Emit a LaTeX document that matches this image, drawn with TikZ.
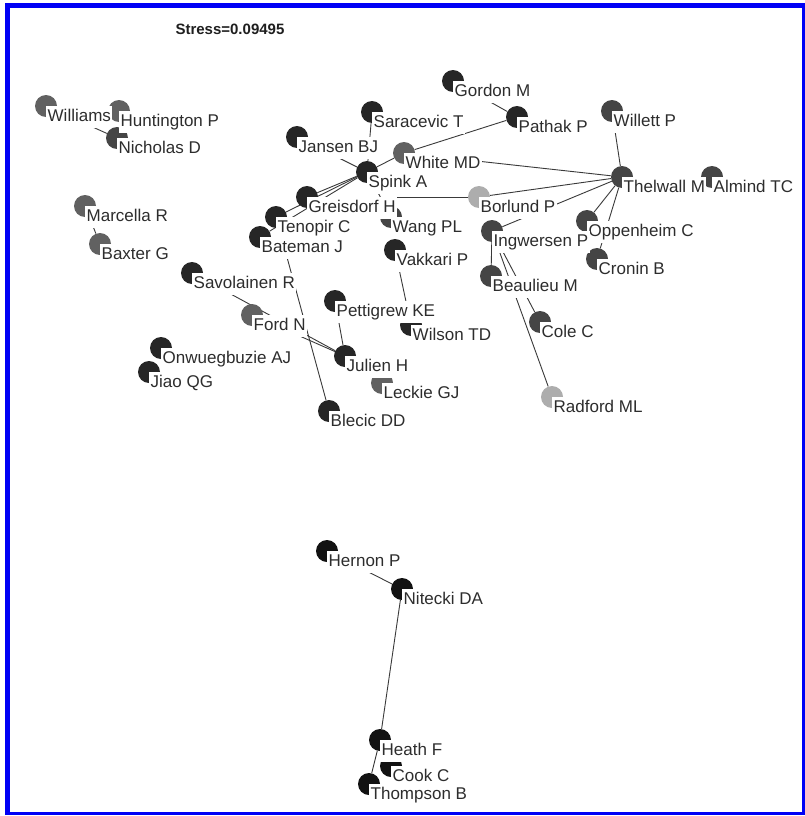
\documentclass[tikz,border=0pt]{standalone}
\usepackage{fontspec}
\setmainfont{Liberation Sans}
\usepackage{tikz}
\usetikzlibrary{backgrounds}
\definecolor{frameblue}{RGB}{0, 0, 245}
\definecolor{linkgray}{RGB}{58, 58, 58}
\definecolor{namegray}{RGB}{45, 45, 45}

\begin{document}
\begin{tikzpicture}[x=1pt, y=-1pt,
  au/.style={circle, inner sep=0pt, minimum size=22pt},
  blk/.style={au, fill=black!93},
  drk/.style={au, fill=black!85},
  gry/.style={au, fill=black!73},
  mid/.style={au, fill=black!62},
  lgt/.style={au, fill=black!32},
  lbl/.style={anchor=north west, fill=white, text=namegray, inner xsep=1.5pt, inner ysep=3pt,
    text height=12.4pt, text depth=3.6pt, font=\fontsize{17}{20}\selectfont},
  lnk/.style={linkgray, line width=0.9pt}]
  \useasboundingbox (0,0) rectangle (805,816);
  \node[anchor=base west, text=black!88, font=\bfseries\fontsize{15}{17}\selectfont] (stress) at (172,35) {Stress=0.09495};
  \node[mid] (williams) at (46,106) {};
  \node[mid] (huntington) at (119,111) {};
  \node[gry] (nicholas) at (117,138) {};
  \node[drk] (gordon) at (453,81) {};
  \node[drk] (pathak) at (517,117) {};
  \node[drk] (saracevic) at (372,112) {};
  \node[gry] (willett) at (612,111) {};
  \node[drk] (jansen) at (297,137) {};
  \node[mid] (white) at (404,153) {};
  \node[drk] (spink) at (367,172) {};
  \node[gry] (thelwall) at (622,177) {};
  \node[gry] (almind) at (712,177) {};
  \node[drk] (greisdorf) at (307,197) {};
  \node[lgt] (borlund) at (479,197) {};
  \node[mid] (marcella) at (85,206) {};
  \node[drk] (tenopir) at (276,217) {};
  \node[gry] (wang) at (391,217) {};
  \node[gry] (ingwersen) at (492,231) {};
  \node[gry] (oppenheim) at (587,221) {};
  \node[drk] (bateman) at (260,237) {};
  \node[mid] (baxter) at (100,244) {};
  \node[drk] (vakkari) at (395,250) {};
  \node[gry] (cronin) at (597,259) {};
  \node[gry] (beaulieu) at (491,276) {};
  \node[drk] (savolainen) at (192,273) {};
  \node[mid] (ford) at (252,315) {};
  \node[drk] (pettigrew) at (335,301) {};
  \node[drk] (wilson) at (411,325) {};
  \node[gry] (cole) at (540,322) {};
  \node[drk] (onwuegbuzie) at (161,348) {};
  \node[drk] (julien) at (345,356) {};
  \node[drk] (jiao) at (149,372) {};
  \node[mid] (leckie) at (382,383) {};
  \node[lgt] (radford) at (552,397) {};
  \node[drk] (blecic) at (329,411) {};
  \node[blk] (hernon) at (327,551) {};
  \node[blk] (nitecki) at (402,589) {};
  \node[blk] (heath) at (380,740) {};
  \node[blk] (cook) at (391,766) {};
  \node[blk] (thompson) at (369,784) {};
  \begin{scope}[on background layer]
    \fill[frameblue] (5,3) rectangle (805,815);
    \fill[white] (10,8) rectangle (802,812);
    \draw[lnk] (williams) -- (nicholas);
    \draw[lnk] (marcella) -- (baxter);
    \draw[lnk] (gordon) -- (pathak);
    \draw[lnk] (white) -- (pathak);
    \draw[lnk] (saracevic) -- (spink);
    \draw[lnk] (jansen) -- (spink);
    \draw[lnk] (spink) -- (white);
    \draw[lnk] (spink) -- (greisdorf);
    \draw[lnk] (spink) -- (tenopir);
    \draw[lnk] (spink) -- (bateman);
    \draw[lnk] (spink) -- (wang);
    \draw[lnk] (wang) -- (vakkari);
    \draw[lnk] (vakkari) -- (wilson);
    \draw[lnk] (greisdorf) -- (borlund);
    \draw[lnk] (tenopir) -- (blecic);
    \draw[lnk] (savolainen) -- (julien);
    \draw[lnk] (ford) -- (julien);
    \draw[lnk] (pettigrew) -- (julien);
    \draw[lnk] (white) -- (thelwall);
    \draw[lnk] (willett) -- (thelwall);
    \draw[lnk] (borlund) -- (thelwall);
    \draw[lnk] (ingwersen) -- (thelwall);
    \draw[lnk] (oppenheim) -- (thelwall);
    \draw[lnk] (cronin) -- (thelwall);
    \draw[lnk] (ingwersen) -- (beaulieu);
    \draw[lnk] (ingwersen) -- (cole);
    \draw[lnk] (ingwersen) -- (radford);
    \draw[lnk] (hernon) -- (nitecki);
    \draw[lnk] (nitecki) -- (heath);
    \draw[lnk] (heath) -- (thompson);
  \end{scope}
  \node[lbl] (gordon-l) at (gordon.center) {Gordon M};
  \node[lbl] (williams-l) at (williams.center) {Williams};
  \node[lbl] (huntington-l) at (huntington.center) {Huntington P};
  \node[lbl] (nicholas-l) at (nicholas.center) {Nicholas D};
  \node[lbl] (saracevic-l) at (saracevic.center) {Saracevic T};
  \node[lbl] (willett-l) at (willett.center) {Willett P};
  \node[lbl] (pathak-l) at (pathak.center) {Pathak P};
  \node[lbl] (jansen-l) at (jansen.center) {Jansen BJ};
  \node[lbl] (white-l) at (white.center) {White MD};
  \node[lbl] (spink-l) at (spink.center) {Spink A};
  \node[lbl] (thelwall-l) at (thelwall.center) {Thelwall M};
  \node[lbl] (almind-l) at (almind.center) {Almind TC};
  \node[lbl] (greisdorf-l) at (greisdorf.center) {Greisdorf H};
  \node[lbl] (borlund-l) at (borlund.center) {Borlund P};
  \node[lbl] (marcella-l) at (marcella.center) {Marcella R};
  \node[lbl] (tenopir-l) at (tenopir.center) {Tenopir C};
  \node[lbl] (wang-l) at (wang.center) {Wang PL};
  \node[lbl] (oppenheim-l) at (oppenheim.center) {Oppenheim C};
  \node[lbl] (ingwersen-l) at (ingwersen.center) {Ingwersen P};
  \node[lbl] (bateman-l) at (bateman.center) {Bateman J};
  \node[lbl] (baxter-l) at (baxter.center) {Baxter G};
  \node[lbl] (vakkari-l) at (vakkari.center) {Vakkari P};
  \node[lbl] (cronin-l) at (cronin.center) {Cronin B};
  \node[lbl] (savolainen-l) at (savolainen.center) {Savolainen R};
  \node[lbl] (beaulieu-l) at (beaulieu.center) {Beaulieu M};
  \node[lbl] (pettigrew-l) at (pettigrew.center) {Pettigrew KE};
  \node[lbl] (ford-l) at (ford.center) {Ford N};
  \node[lbl] (wilson-l) at (wilson.center) {Wilson TD};
  \node[lbl] (cole-l) at (cole.center) {Cole C};
  \node[lbl] (onwuegbuzie-l) at (onwuegbuzie.center) {Onwuegbuzie AJ};
  \node[lbl] (julien-l) at (julien.center) {Julien H};
  \node[lbl] (jiao-l) at (jiao.center) {Jiao QG};
  \node[lbl] (leckie-l) at (leckie.center) {Leckie GJ};
  \node[lbl] (radford-l) at (radford.center) {Radford ML};
  \node[lbl] (blecic-l) at (blecic.center) {Blecic DD};
  \node[lbl] (hernon-l) at (hernon.center) {Hernon P};
  \node[lbl] (nitecki-l) at (nitecki.center) {Nitecki DA};
  \node[lbl] (heath-l) at (heath.center) {Heath F};
  \node[lbl] (cook-l) at (cook.center) {Cook C};
  \node[lbl] (thompson-l) at (thompson.center) {Thompson B};
\end{tikzpicture}
\end{document}
